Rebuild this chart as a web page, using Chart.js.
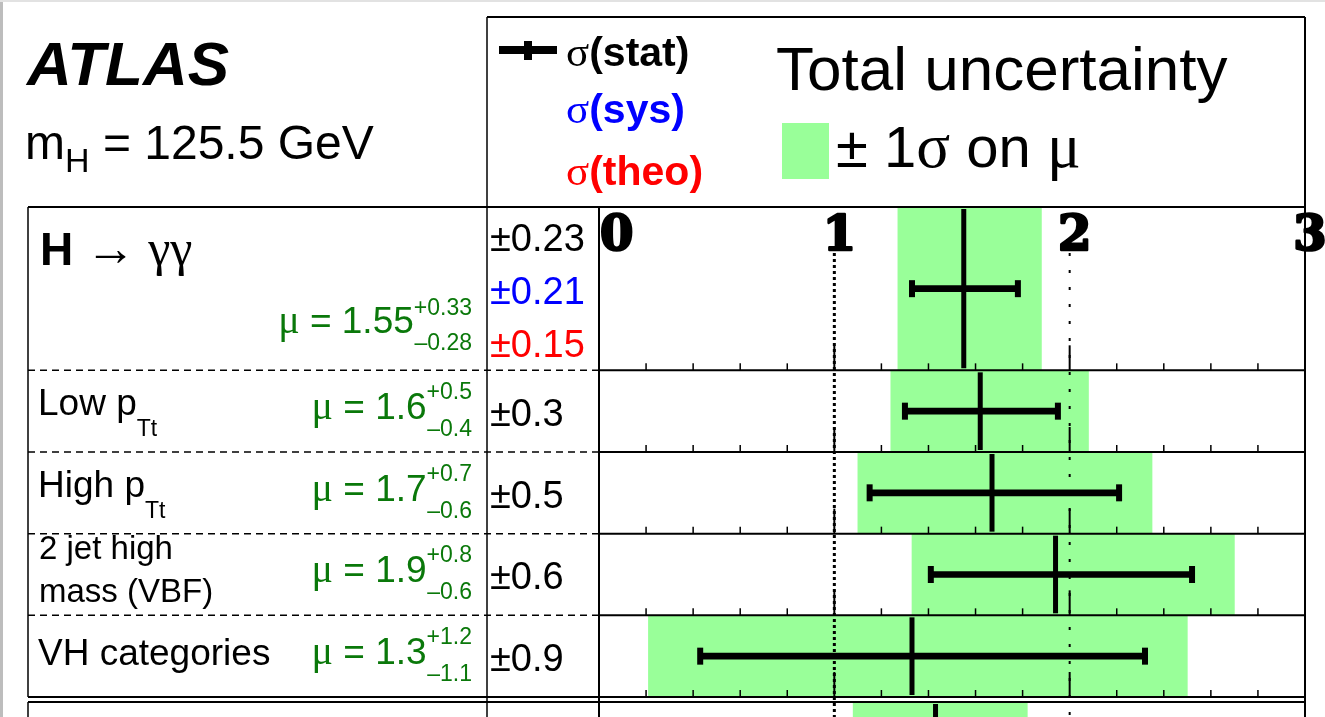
<!DOCTYPE html>
<html>
<head>
<meta charset="utf-8">
<title>ATLAS signal strength, H to gamma gamma</title>
<script src="https://cdn.jsdelivr.net/npm/chart.js@4.4.1/dist/chart.umd.min.js"></script>
<style>
  html, body { margin: 0; padding: 0; background: #fff; }
  #wrap { position: relative; width: 1325px; height: 717px; overflow: hidden; background: #fff; }
  #wrap::before { content: ''; position: absolute; left: 0; top: 0; width: 3px; height: 717px; background: #bdbdbd; }
  #wrap::after { content: ''; position: absolute; left: 0; top: 0; width: 1325px; height: 2px; background: #e2e2e2; }
  #mu-chart { position: absolute; left: 0; top: 0; }
  #text { position: absolute; left: 0; top: 0; }
  #text text { font-family: "Liberation Sans", Arial, sans-serif; }
  #text .sym { font-family: "Liberation Serif", "DejaVu Serif", serif; }
</style>
</head>
<body>
<div id="wrap">
  <canvas id="mu-chart" width="1325" height="717"></canvas>
  <svg id="text" width="1325" height="717" xmlns="http://www.w3.org/2000/svg"></svg>
</div>
<script>
// channels, top to bottom (| starts a subscript, \n a second line)
const channels = ['H \u2192 \u03b3\u03b3', 'Low p|Tt', 'High p|Tt', '2 jet high\nmass (VBF)', 'VH categories', 'H \u2192 ZZ*'];
const channelGroup = [0, 0, 0, 0, 0, 1];

// printed numbers
const muLabel = ['1.55', '1.6', '1.7', '1.9', '1.3', '1.43'];
const muUpLabel = ['+0.33', '+0.5', '+0.7', '+0.8', '+1.2', '+0.40'];
const muDownLabel = ['\u20130.28', '\u20130.4', '\u20130.6', '\u20130.6', '\u20131.1', '\u20130.35'];
const statLabel = ['\u00b10.23', '\u00b10.3', '\u00b10.5', '\u00b10.6', '\u00b10.9', '\u00b10.33'];
const sysLabel = ['\u00b10.21', null, null, null, null, '\u00b10.17'];
const theoLabel = ['\u00b10.15', null, null, null, null, '\u00b10.14'];

const muValue = [1.55, 1.62, 1.67, 1.94, 1.33, 1.43];
const totalLow = [1.27, 1.24, 1.10, 1.33, 0.21, 1.08];
const totalHigh = [1.88, 2.08, 2.35, 2.70, 2.50, 1.82];
const statLow = [1.33, 1.30, 1.15, 1.41, 0.43, 1.10];
const statHigh = [1.78, 1.95, 2.21, 2.52, 2.32, 1.76];

const xTickLabels = ['0', '1', '2', '3'];

// layout
const GREEN = '#99ff99';
const TEXT_GREEN = '#0a780a';
const TABLE_LEFT = 28;
const NUM_LEFT = 487;
const HEADER_TOP = 17;
const Y_MAX = 6.245;

// rows with a sys/theo breakdown take two units of height
const rowSpan = i => (sysLabel[i] ? 2 : 1);
const rowTop = [];
let acc = 0;
channels.forEach((c, i) => {
    if (i > 0 && channelGroup[i] !== channelGroup[i - 1]) acc += 0.06;
    rowTop.push(acc);
    acc += rowSpan(i);
});
const rowMid = rowTop.map((t, i) => t + rowSpan(i) / 2);

const bandData = span => channels
    .map((c, i) => rowSpan(i) === span ? { x: [totalLow[i], totalHigh[i]], y: rowMid[i] } : null)
    .filter(Boolean);

// frame, table lines, reference lines, ticks and tick labels
const framePlugin = {
    id: 'frame',
    afterDatasetsDraw(chart) {
        const { ctx, chartArea: a, scales: { x, y } } = chart;
        const seg = (x1, y1, x2, y2) => { ctx.beginPath(); ctx.moveTo(x1, y1); ctx.lineTo(x2, y2); ctx.stroke(); };
        ctx.save();
        ctx.strokeStyle = '#000';

        // mu = 1 and mu = 2
        const below = a.top + 46;
        ctx.lineWidth = 3;
        ctx.setLineDash([3, 3]);
        seg(x.getPixelForValue(1), below, x.getPixelForValue(1), a.bottom);
        ctx.lineWidth = 2;
        ctx.setLineDash([3, 14]);
        seg(x.getPixelForValue(2), below, x.getPixelForValue(2), a.bottom);
        ctx.setLineDash([]);

        channels.forEach((c, i) => {
            const yb = y.getPixelForValue(rowTop[i] + rowSpan(i));
            const groupEnd = i === channels.length - 1 || channelGroup[i + 1] !== channelGroup[i];
            for (let k = 1; k < 15; k++) {
                const major = k % 5 === 0;
                const px = x.getPixelForValue(k * 0.2);
                ctx.lineWidth = major ? 2 : 1.5;
                seg(px, yb, px, yb - (major ? 25 : 7));
            }
            ctx.lineWidth = 2;
            if (groupEnd) {
                seg(TABLE_LEFT, yb, a.right, yb);
            } else {
                seg(a.left, yb, a.right, yb);
                ctx.lineWidth = 1.5;
                ctx.setLineDash([7, 5]);
                seg(TABLE_LEFT, yb, a.left, yb);
                ctx.setLineDash([]);
            }
            if (i === 0 || channelGroup[i] !== channelGroup[i - 1]) {
                const yt = y.getPixelForValue(rowTop[i]);
                let last = i;
                while (last + 1 < channels.length && channelGroup[last + 1] === channelGroup[i]) last++;
                const yEnd = y.getPixelForValue(rowTop[last] + rowSpan(last));
                ctx.lineWidth = 2;
                seg(TABLE_LEFT, yt, a.right, yt);
                ctx.lineWidth = 1.5;
                seg(TABLE_LEFT, yt, TABLE_LEFT, yEnd);
            }
        });

        // columns and header box
        ctx.lineWidth = 1.5;
        seg(NUM_LEFT, HEADER_TOP, NUM_LEFT, a.bottom);
        ctx.lineWidth = 2;
        seg(a.left, a.top, a.left, a.bottom);
        seg(a.right, HEADER_TOP, a.right, a.bottom);
        seg(NUM_LEFT, HEADER_TOP, a.right, HEADER_TOP);

        // tick labels inside the top of the frame
        ctx.font = 'bold 48px "DejaVu Serif"';
        ctx.fillStyle = '#000';
        ctx.lineWidth = 2.5;
        ctx.lineJoin = 'round';
        ctx.textAlign = 'center';
        ctx.textBaseline = 'alphabetic';
        xTickLabels.forEach(l => {
            const w = ctx.measureText(l).width;
            const px = Math.max(x.getPixelForValue(Number(l)) + 5, a.left + w / 2 + 1);
            ctx.strokeText(l, px, a.top + 43);
            ctx.fillText(l, px, a.top + 43);
        });
        ctx.restore();
    }
};

const chart = new Chart(document.getElementById('mu-chart').getContext('2d'), {
    type: 'bar',
    data: {
        datasets: [
            {
                label: '\u00b1 1\u03c3 on \u03bc',
                indexAxis: 'y',
                grouped: false,
                data: bandData(2),
                backgroundColor: GREEN,
                barThickness: 163,
                order: 4
            },
            {
                label: '\u00b1 1\u03c3 on \u03bc (categories)',
                indexAxis: 'y',
                grouped: false,
                data: bandData(1),
                backgroundColor: GREEN,
                barThickness: 81,
                order: 3
            },
            {
                label: '\u03c3(stat)',
                indexAxis: 'y',
                grouped: false,
                data: channels.map((c, i) => ({ x: [statLow[i], statHigh[i]], y: rowMid[i] })),
                backgroundColor: '#000',
                barThickness: 6,
                order: 2
            },
            {
                type: 'scatter',
                label: 'stat caps',
                data: statLow.map((v, i) => ({ x: v, y: rowMid[i] }))
                    .concat(statHigh.map((v, i) => ({ x: v, y: rowMid[i] }))),
                pointStyle: 'line',
                pointRotation: 90,
                pointRadius: 8.5,
                pointBorderWidth: 6,
                pointBorderColor: '#000',
                order: 1
            },
            {
                type: 'scatter',
                label: '\u03bc',
                data: muValue.map((v, i) => ({ x: v, y: rowMid[i] })),
                pointStyle: 'line',
                pointRotation: 90,
                pointRadius: ctx => {
                    const ys = ctx.chart.scales.y;
                    return Math.abs(ys.getPixelForValue(rowSpan(ctx.dataIndex)) - ys.getPixelForValue(0)) / 2 - 2;
                },
                pointBorderWidth: 5,
                pointBorderColor: '#000',
                order: 0
            }
        ]
    },
    options: {
        responsive: false,
        animation: false,
        events: [],
        layout: { autoPadding: false, padding: { left: 599, right: 20, top: 207, bottom: 0 } },
        plugins: { legend: { display: false }, tooltip: { enabled: false } },
        scales: {
            x: { type: 'linear', min: 0, max: 3, bounds: 'data', display: false, offset: false },
            y: { type: 'linear', min: 0, max: Y_MAX, bounds: 'data', reverse: true, display: false, offset: false }
        }
    },
    plugins: [framePlugin]
});

// text layer
const NS = 'http://www.w3.org/2000/svg';
const svg = document.getElementById('text');
function addText(x, y, size, fill, html, opts = {}) {
    const t = document.createElementNS(NS, 'text');
    t.setAttribute('x', x);
    t.setAttribute('y', y);
    t.setAttribute('font-size', size);
    t.setAttribute('fill', fill);
    if (opts.anchor) t.setAttribute('text-anchor', opts.anchor);
    if (opts.weight) t.setAttribute('font-weight', opts.weight);
    if (opts.italic) t.setAttribute('font-style', 'italic');
    t.innerHTML = html;
    svg.appendChild(t);
    return t;
}
function addRect(x, y, w, h, fill) {
    const r = document.createElementNS(NS, 'rect');
    r.setAttribute('x', x); r.setAttribute('y', y);
    r.setAttribute('width', w); r.setAttribute('height', h);
    r.setAttribute('fill', fill);
    svg.appendChild(r);
}

addText(27, 85, 62, '#000', 'ATLAS', { weight: 'bold', italic: true });
addText(25, 159, 48, '#000', 'm<tspan font-size="34" dy="13">H</tspan><tspan dy="-13"> = 125.5 GeV</tspan>');

// legend box
addRect(499, 46, 58, 8, '#000');
addRect(524, 41, 8, 19, '#000');
addText(566, 66, 41, '#000', '<tspan class="sym" font-size="43">\u03c3</tspan><tspan font-weight="bold">(stat)</tspan>');
addText(566, 123, 41, '#0000ff', '<tspan class="sym" font-size="43">\u03c3</tspan><tspan font-weight="bold">(sys)</tspan>');
addText(566, 185, 41, '#ff0000', '<tspan class="sym" font-size="43">\u03c3</tspan><tspan font-weight="bold">(theo)</tspan>');
addText(776, 90, 62, '#000', 'Total uncertainty');
addRect(782, 123, 47, 56, GREEN);
addText(836, 167, 58, '#000', '\u00b1 1<tspan class="sym" font-size="63">\u03c3</tspan> on <tspan class="sym" font-size="63">\u03bc</tspan>');

// table rows
const ys = chart.scales.y;
channels.forEach((name, i) => {
    const mid = ys.getPixelForValue(rowMid[i]);
    const big = rowSpan(i) === 2;
    if (name.startsWith('H ')) {
        addText(40, mid - 24, 46, '#000', '<tspan font-weight="bold">H</tspan><tspan class="sym" font-size="50"> ' + name.slice(2) + '</tspan>');
    } else if (name.includes('\n')) {
        const [l1, l2] = name.split('\n');
        addText(39, mid - 15, 33, '#000', l1);
        addText(39, mid + 28, 33, '#000', l2);
    } else if (name.includes('|')) {
        const [main, sub] = name.split('|');
        addText(38, mid + 4, 37, '#000', main + '<tspan font-size="23" dy="21">' + sub + '</tspan>');
    } else {
        addText(38, mid + 9, 37, '#000', name);
    }

    const base = big ? mid + 44 : mid + 8;
    addText(472, base, 37, TEXT_GREEN,
        '<tspan class="sym" font-size="40">\u03bc</tspan> = ' + muLabel[i] +
        '<tspan font-size="23" dy="' + (big ? -18 : -20) + '">' + muUpLabel[i] + '</tspan>', { anchor: 'end' });
    addText(472, base + 17, 23, TEXT_GREEN, muDownLabel[i], { anchor: 'end' });

    if (big) {
        addText(490, mid - 38, 38, '#000', statLabel[i]);
        addText(490, mid + 15, 38, '#0000ff', sysLabel[i]);
        addText(490, mid + 68, 38, '#ff0000', theoLabel[i]);
    } else {
        addText(490, mid + 15, 38, '#000', statLabel[i]);
    }
});
</script>
</body>
</html>
